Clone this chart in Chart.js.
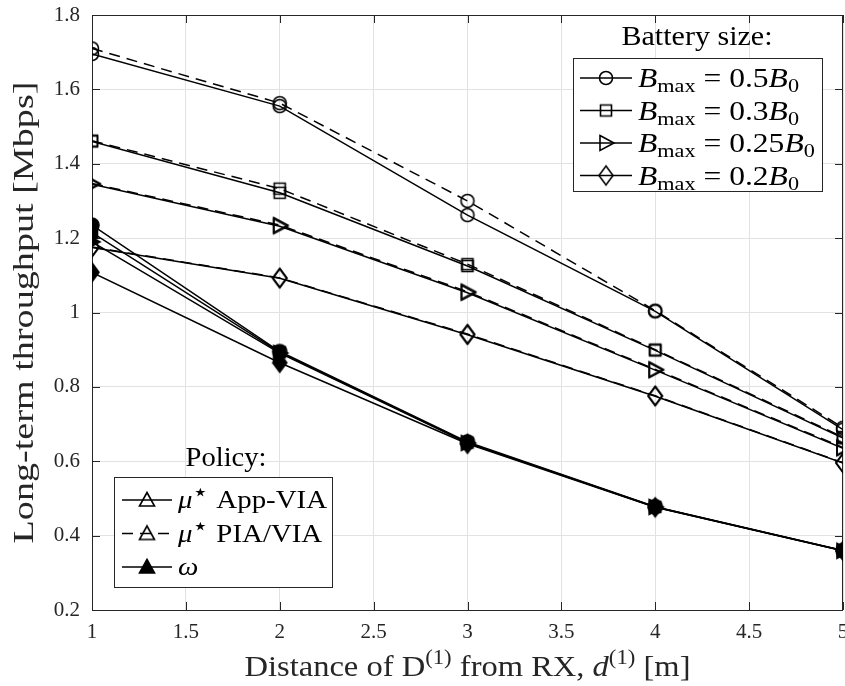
<!DOCTYPE html>
<html>
<head>
<meta charset="utf-8">
<script src="https://cdn.jsdelivr.net/npm/chart.js@4.4.1/dist/chart.umd.min.js"></script>
<style>
  html, body { margin: 0; padding: 0; background: #fff; }
  #wrap { width: 845px; height: 686px; }
</style>
</head>
<body>
<div id="wrap"><canvas id="chart" width="845" height="686"></canvas></div>
<script>
// distance of device 1 from RX [m]
const distances = [1, 2, 3, 4, 5];
const xTicks = [1, 1.5, 2, 2.5, 3, 3.5, 4, 4.5, 5];
const yTicks = [0.2, 0.4, 0.6, 0.8, 1, 1.2, 1.4, 1.6, 1.8];

// long-term throughput [Mbps] per battery size and policy
const appVia05 = [1.695, 1.555, 1.262, 1.003, 0.685];
const piaVia05 = [1.71, 1.563, 1.30, 1.005, 0.69];
const omega05 = [1.235, 0.895, 0.652, 0.478, 0.36];

const appVia03 = [1.46, 1.322, 1.125, 0.898, 0.662];
const piaVia03 = [1.462, 1.333, 1.13, 0.9, 0.665];
const omega03 = [1.215, 0.893, 0.65, 0.477, 0.36];

const appVia025 = [1.345, 1.232, 1.053, 0.845, 0.635];
const piaVia025 = [1.347, 1.235, 1.056, 0.847, 0.637];
const omega025 = [1.19, 0.891, 0.649, 0.477, 0.359];

const appVia02 = [1.175, 1.092, 0.94, 0.775, 0.595];
const piaVia02 = [1.176, 1.093, 0.942, 0.776, 0.596];
const omega02 = [1.108, 0.865, 0.647, 0.476, 0.359];

const batteryLabels = ['0.5', '0.3', '0.25', '0.2'];

const INK = '#000';
const AXIS = '#262626';
const SERIF = "'Liberation Serif', 'DejaVu Serif', serif";

// MATLAB-like marker glyphs drawn once into small canvases
function makeMarker(shape, filled) {
  const s = 26;
  const c = document.createElement('canvas');
  c.width = s; c.height = s;
  const g = c.getContext('2d');
  g.translate(s / 2, s / 2);
  g.beginPath();
  if (shape === 'circle') {
    g.arc(0, 0, filled ? 7 : 6.5, 0, Math.PI * 2);
  } else if (shape === 'square') {
    g.rect(-5.5, -5.5, 11, 11);
  } else if (shape === 'right') {
    g.moveTo(-6, -7.5); g.lineTo(8, 0); g.lineTo(-6, 7.5); g.closePath();
  } else if (shape === 'diamond') {
    g.moveTo(0, -9.5); g.lineTo(7, 0); g.lineTo(0, 9.5); g.lineTo(-7, 0); g.closePath();
  } else if (shape === 'up') {
    g.moveTo(0, -7.5); g.lineTo(7.5, 6); g.lineTo(-7.5, 6); g.closePath();
  }
  g.lineWidth = 1.6;
  g.strokeStyle = INK;
  if (filled) { g.fillStyle = INK; g.fill(); }
  g.stroke();
  return c;
}

const shapes = ['circle', 'square', 'right', 'diamond'];
const openMarks = shapes.map(s => makeMarker(s, false));
const filledMarks = shapes.map(s => makeMarker(s, true));
const legendUpOpen = makeMarker('up', false);
const legendUpFilled = makeMarker('up', true);

function pts(values) {
  return distances.map((d, i) => ({ x: d, y: values[i] }));
}

function series(values, marker, dashed) {
  return {
    data: pts(values),
    borderColor: INK,
    borderWidth: 1.5,
    borderDash: dashed ? [11, 7] : [],
    pointStyle: marker,
    pointRadius: 8,
    pointHoverRadius: 8,
    fill: false,
    tension: 0,
  };
}

const appSets = [appVia05, appVia03, appVia025, appVia02];
const piaSets = [piaVia05, piaVia03, piaVia025, piaVia02];
const omegaSets = [omega05, omega03, omega025, omega02];

const datasets = [];
for (let i = 0; i < 4; i++) {
  datasets.push(series(omegaSets[i], filledMarks[i], false));
  datasets.push(series(piaSets[i], openMarks[i], true));
  datasets.push(series(appSets[i], openMarks[i], false));
}

// text made of roman / italic / sub- and superscript pieces
function richWidth(ctx, parts) {
  let w = 0;
  for (const p of parts) {
    ctx.font = (p.i ? 'italic ' : '') + p.size + 'px ' + SERIF;
    w += ctx.measureText(p.t).width;
  }
  return w;
}

function drawRich(ctx, parts, x, y, align, sx) {
  const w = richWidth(ctx, parts);
  ctx.save();
  ctx.translate(x, y);
  ctx.scale(sx, 1);
  let cx = align === 'center' ? -w / 2 : 0;
  ctx.textBaseline = 'alphabetic';
  ctx.textAlign = 'left';
  for (const p of parts) {
    ctx.font = (p.i ? 'italic ' : '') + p.size + 'px ' + SERIF;
    ctx.fillText(p.t, cx, p.dy || 0);
    cx += ctx.measureText(p.t).width;
  }
  ctx.restore();
}

function fitScale(ctx, parts, target) {
  return target / richWidth(ctx, parts);
}

function bmaxParts(v) {
  return [
    { t: 'B', i: true, size: 27 },
    { t: 'max', size: 19, dy: 5 },
    { t: ' = ' + v, size: 27 },
    { t: 'B', i: true, size: 27 },
    { t: '0', size: 19, dy: 5 },
  ];
}

const decor = {
  id: 'decor',
  beforeDatasetsDraw(chart) {
    const { ctx, chartArea: a } = chart;
    const xs = chart.scales.x, ys = chart.scales.y;
    ctx.save();
    ctx.strokeStyle = AXIS;
    ctx.lineWidth = 1;
    ctx.strokeRect(a.left + 0.5, a.top + 0.5, a.right - a.left - 1, a.bottom - a.top);
    ctx.beginPath();
    for (const v of xTicks) {
      const px = Math.round(xs.getPixelForValue(v)) + 0.5;
      ctx.moveTo(px, a.bottom); ctx.lineTo(px, a.bottom - 8);
      ctx.moveTo(px, a.top); ctx.lineTo(px, a.top + 8);
    }
    for (const v of yTicks) {
      const py = Math.round(ys.getPixelForValue(v)) + 0.5;
      ctx.moveTo(a.left, py); ctx.lineTo(a.left + 8, py);
      ctx.moveTo(a.right, py); ctx.lineTo(a.right - 8, py);
    }
    ctx.stroke();
    ctx.restore();
  },
  afterDraw(chart) {
    const { ctx, chartArea: a } = chart;
    const xs = chart.scales.x, ys = chart.scales.y;
    ctx.save();
    ctx.fillStyle = AXIS;

    // tick labels
    ctx.font = '21px ' + SERIF;
    ctx.textAlign = 'center';
    ctx.textBaseline = 'top';
    for (const v of xTicks) ctx.fillText(String(v), xs.getPixelForValue(v), a.bottom + 12);
    ctx.textAlign = 'right';
    ctx.textBaseline = 'middle';
    for (const v of yTicks) ctx.fillText(String(v), a.left - 12, ys.getPixelForValue(v));

    // axis titles
    const xTitle = [
      { t: 'Distance of D', size: 30 },
      { t: '(1)', size: 21, dy: -12 },
      { t: ' from RX, ', size: 30 },
      { t: 'd', i: true, size: 30 },
      { t: '(1)', size: 21, dy: -12 },
      { t: ' [m]', size: 30 },
    ];
    drawRich(ctx, xTitle, (a.left + a.right) / 2, 676, 'center', fitScale(ctx, xTitle, 446));

    const yTitle = [{ t: 'Long-term throughput [Mbps]', size: 30 }];
    ctx.save();
    ctx.translate(33, (a.top + a.bottom) / 2);
    ctx.rotate(-Math.PI / 2);
    drawRich(ctx, yTitle, 0, 0, 'center', fitScale(ctx, yTitle, 462));
    ctx.restore();

    ctx.fillStyle = INK;
    ctx.strokeStyle = INK;

    // battery size legend
    const bTitle = [{ t: 'Battery size:', size: 27 }];
    drawRich(ctx, bTitle, 697, 45, 'center', fitScale(ctx, bTitle, 151));
    ctx.fillStyle = '#fff';
    ctx.fillRect(573, 58, 249, 133);
    ctx.strokeStyle = AXIS;
    ctx.lineWidth = 1;
    ctx.strokeRect(573.5, 58.5, 249, 133);
    const bScale = fitScale(ctx, bmaxParts(batteryLabels[0]), 161);
    batteryLabels.forEach((lab, k) => {
      const y = 78 + k * 32.5;
      ctx.strokeStyle = INK;
      ctx.lineWidth = 1.5;
      ctx.setLineDash([]);
      ctx.beginPath(); ctx.moveTo(580, y); ctx.lineTo(632, y); ctx.stroke();
      const m = openMarks[k];
      ctx.drawImage(m, 606 - m.width / 2, y - m.height / 2);
      ctx.fillStyle = INK;
      drawRich(ctx, bmaxParts(lab), 638, y + 9, 'left', bScale);
    });

    // policy legend
    const pTitle = [{ t: 'Policy:', size: 27 }];
    drawRich(ctx, pTitle, 226, 466, 'center', fitScale(ctx, pTitle, 81));
    ctx.fillStyle = '#fff';
    ctx.fillRect(114, 477, 218, 110);
    ctx.strokeStyle = AXIS;
    ctx.lineWidth = 1;
    ctx.strokeRect(114.5, 477.5, 218, 110);
    const star = { t: '⋆', size: 24, dy: -8 };
    const policy = [
      { parts: [{ t: 'μ', i: true, size: 26 }, star, { t: ' App-VIA', size: 26 }], dash: [], mark: legendUpOpen },
      { parts: [{ t: 'μ', i: true, size: 26 }, star, { t: ' PIA/VIA', size: 26 }], dash: [11, 7], mark: legendUpOpen },
      { parts: [{ t: 'ω', i: true, size: 26 }], dash: [], mark: legendUpFilled },
    ];
    const pScale = fitScale(ctx, policy[0].parts, 149);
    policy.forEach((p, k) => {
      const y = 500 + k * 33.5;
      ctx.strokeStyle = INK;
      ctx.lineWidth = 1.5;
      ctx.setLineDash(p.dash);
      ctx.beginPath(); ctx.moveTo(122, y); ctx.lineTo(172, y); ctx.stroke();
      ctx.setLineDash([]);
      ctx.drawImage(p.mark, 147 - p.mark.width / 2, y - p.mark.height / 2);
      ctx.fillStyle = INK;
      drawRich(ctx, p.parts, 178, y + 8, 'left', pScale);
    });
    ctx.restore();
  },
};

new Chart(document.getElementById('chart'), {
  type: 'line',
  data: { datasets },
  options: {
    responsive: false,
    animation: false,
    events: [],
    layout: { autoPadding: false, padding: { top: 15, right: 2, left: 0, bottom: 0 } },
    plugins: { legend: { display: false }, tooltip: { enabled: false } },
    scales: {
      x: {
        type: 'linear', min: 1, max: 5,
        ticks: { stepSize: 0.5, display: false },
        grid: { color: '#e2e2e2', drawTicks: false },
        border: { display: false },
        afterFit: (s) => { s.height = 76; },
      },
      y: {
        type: 'linear', min: 0.2, max: 1.8,
        ticks: { stepSize: 0.2, display: false },
        grid: { color: '#e2e2e2', drawTicks: false },
        border: { display: false },
        afterFit: (s) => { s.width = 92; },
      },
    },
  },
  plugins: [decor],
});
</script>
</body>
</html>
